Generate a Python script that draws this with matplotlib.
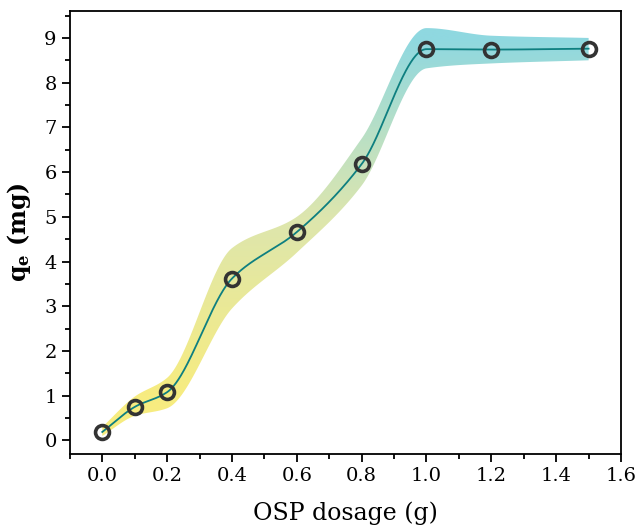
import matplotlib
matplotlib.use("Agg")
import matplotlib.pyplot as plt
import numpy as np
from matplotlib.colors import LinearSegmentedColormap
from matplotlib.ticker import MultipleLocator

# data
dosage = [0.0, 0.1, 0.2, 0.4, 0.6, 0.8, 1.0, 1.2, 1.5]
qe = [0.19, 0.75, 1.08, 3.62, 4.66, 6.18, 8.75, 8.74, 8.76]
band_upper = [0.30, 0.98, 1.40, 4.30, 5.00, 6.75, 9.22, 9.05, 9.00]
band_lower = [0.10, 0.55, 0.72, 2.95, 4.20, 5.70, 8.32, 8.43, 8.50]


def pchip(x, y, xs):
    # monotone cubic interpolation, just for drawing smooth curves
    x = np.asarray(x, float)
    y = np.asarray(y, float)
    h = np.diff(x)
    d = np.diff(y) / h
    m = np.zeros_like(y)
    for k in range(1, len(x) - 1):
        if d[k - 1] * d[k] > 0:
            w1 = 2 * h[k] + h[k - 1]
            w2 = h[k] + 2 * h[k - 1]
            m[k] = (w1 + w2) / (w1 / d[k - 1] + w2 / d[k])
    m[0] = d[0]
    m[-1] = d[-1]
    idx = np.clip(np.searchsorted(x, xs) - 1, 0, len(x) - 2)
    t = (xs - x[idx]) / h[idx]
    h00 = 2 * t**3 - 3 * t**2 + 1
    h10 = t**3 - 2 * t**2 + t
    h01 = -2 * t**3 + 3 * t**2
    h11 = t**3 - t**2
    return (h00 * y[idx] + h10 * h[idx] * m[idx]
            + h01 * y[idx + 1] + h11 * h[idx] * m[idx + 1])


plt.rcParams['font.family'] = ['DejaVu Serif']
plt.rcParams['mathtext.fontset'] = 'dejavuserif'

fig = plt.figure(figsize=(6.35, 5.29), dpi=100)
ax = fig.add_axes([0.110, 0.142, 0.868, 0.837])

ylo, yhi = -0.3, 9.6
xs = np.linspace(dosage[0], dosage[-1], 600)
up = pchip(dosage, band_upper, xs)
lo = pchip(dosage, band_lower, xs)
line = pchip(dosage, qe, xs)

# gradient-filled band (yellow below ~1, cyan above ~9)
poly = ax.fill_between(xs, lo, up, color='none', lw=0)
cmap = LinearSegmentedColormap.from_list('yc', ['#f7ec80', '#dde6ae', '#8fd8e0'])
yy = np.linspace(ylo, yhi, 400)
grad = np.clip((yy - 1.0) / 8.0, 0, 1).reshape(-1, 1)
img = ax.imshow(grad, cmap=cmap, origin='lower', aspect='auto',
                extent=[-0.1, 1.6, ylo, yhi], zorder=1, vmin=0, vmax=1)
img.set_clip_path(poly.get_paths()[0], transform=ax.transData)

ax.plot(xs, line, color='#0e7f80', lw=1.3, zorder=2)
ax.plot(dosage, qe, 'o', mfc='none', mec='#333333', mew=2.6, ms=10, zorder=3)

ax.set_xlim(-0.1, 1.6)
ax.set_ylim(ylo, yhi)
ax.xaxis.set_major_locator(MultipleLocator(0.2))
ax.xaxis.set_minor_locator(MultipleLocator(0.1))
ax.yaxis.set_major_locator(MultipleLocator(1))
ax.yaxis.set_minor_locator(MultipleLocator(0.5))
ax.tick_params(which='major', direction='out', length=6, width=1.3, labelsize=14)
ax.tick_params(which='minor', direction='out', length=3.5, width=1.3)
for s in ax.spines.values():
    s.set_linewidth(1.3)

ax.set_xlabel("OSP dosage (g)", fontsize=17, labelpad=12)
ax.set_ylabel(r"q$_\mathbf{e}$ (mg)", fontsize=17, labelpad=8, fontweight='bold')

fig.savefig("out.png", dpi=100)
